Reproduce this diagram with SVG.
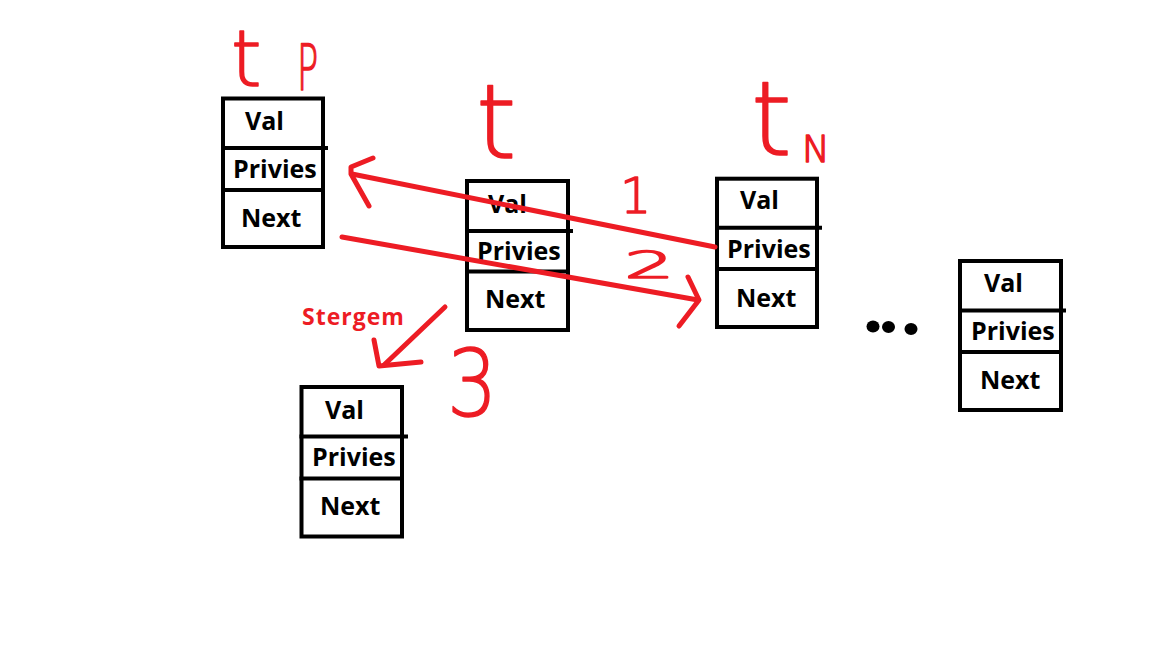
<svg xmlns="http://www.w3.org/2000/svg" width="1152" height="648" viewBox="0 0 1152 648">
<style>
.box{fill:#fff;stroke:#000;stroke-width:4}
.div{stroke:#000;stroke-width:4;fill:none}
.lbl{font-family:"Open Sans","Liberation Sans",sans-serif;font-weight:700;font-size:25px;fill:#000}
.red{stroke:#ED1C24;stroke-width:5;fill:none;stroke-linecap:round;stroke-linejoin:round}
.hand{font-family:"DejaVu Sans","Liberation Sans",sans-serif;font-weight:200;fill:#ED1C24;stroke:#ED1C24;stroke-width:1.5;stroke-linejoin:round}
.note{font-family:"Open Sans","Liberation Sans",sans-serif;font-weight:700;font-size:23px;fill:#ED1C24}
</style>
<rect width="1152" height="648" fill="#fff"/>
<g id="node-tp">
<rect class="box" x="223" y="98.5" width="100" height="148.5"/>
<path class="div" d="M221,148H328M221,190H325"/>
<text class="lbl" x="245" y="130">Val</text>
<text class="lbl" x="233" y="178">Privies</text>
<text class="lbl" x="241" y="227">Next</text>
</g>
<g id="node-t">
<rect class="box" x="467" y="181" width="101" height="149"/>
<path class="div" d="M465,231H573M465,271.5H570"/>
<text class="lbl" x="488" y="213">Val</text>
<text class="lbl" x="477" y="260">Privies</text>
<text class="lbl" x="485" y="308">Next</text>
</g>
<g id="node-tn">
<rect class="box" x="717" y="178.7" width="100" height="148.3"/>
<path class="div" d="M715,227.7H822M715,269H819"/>
<text class="lbl" x="740" y="209">Val</text>
<text class="lbl" x="727" y="258">Privies</text>
<text class="lbl" x="736" y="307">Next</text>
</g>
<g id="node-last">
<rect class="box" x="960" y="261" width="101" height="149"/>
<path class="div" d="M958,310.5H1066M958,352H1063"/>
<text class="lbl" x="984" y="292">Val</text>
<text class="lbl" x="971" y="340">Privies</text>
<text class="lbl" x="980" y="389">Next</text>
</g>
<g id="node-removed">
<rect class="box" x="301.5" y="387" width="100.5" height="149.5"/>
<path class="div" d="M299.5,436.5H408M299.5,478.5H404"/>
<text class="lbl" x="325" y="419">Val</text>
<text class="lbl" x="312" y="466">Privies</text>
<text class="lbl" x="320" y="515">Next</text>
</g>
<g id="ellipsis" fill="#000">
<ellipse cx="873" cy="326.5" rx="6.5" ry="6"/>
<ellipse cx="888.5" cy="327" rx="6.5" ry="6"/>
<ellipse cx="911" cy="329" rx="6.5" ry="6"/>
</g>
<g id="connectors">
<path class="red" d="M715,247L352,174"/>
<path class="red" d="M373,158L351,167L351,174L369,206"/>
<path class="red" d="M342,237L698,300"/>
<path class="red" d="M688,277L699,300L679,326"/>
<path class="red" d="M445,307L384,365"/>
<path class="red" d="M374,340L379,366L421,362"/>
</g>
<g id="labels">
<text class="hand" x="231" y="86" font-size="78">t</text>
<text class="hand" transform="translate(297,90) scale(0.55,1)" font-size="64">P</text>
<text class="hand" x="476" y="158" font-size="103">t</text>
<text class="hand" x="751" y="155" font-size="104">t</text>
<text class="hand" x="802" y="162" font-size="37">N</text>
<text class="hand" x="620" y="213" font-size="49">1</text>
<text class="hand" transform="translate(624,278) scale(2.1,1)" font-size="38">2</text>
<text class="hand" transform="translate(447,416) scale(0.85,1)" font-size="93">3</text>
<text class="note" x="302" y="325" letter-spacing="1">Stergem</text>
</g>
</svg>
